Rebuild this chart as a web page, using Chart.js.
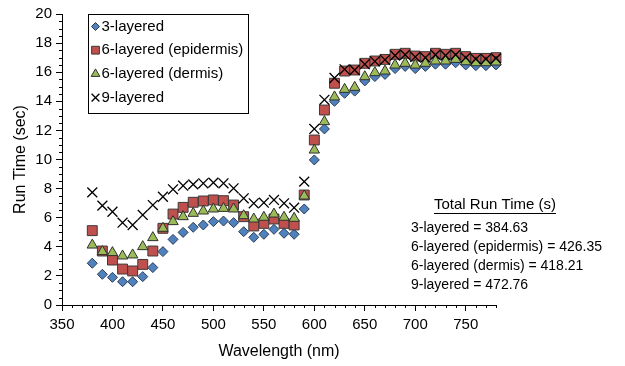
<!DOCTYPE html>
<html lang="en">
<head>
<meta charset="UTF-8">
<title>Run Time vs Wavelength</title>
<script src="https://cdn.jsdelivr.net/npm/chart.js"></script>
<style>
    body { margin: 0; background: #fff; }
    canvas { display: block; }
</style>
</head>
<body>
<canvas id="runTimeChart" width="625" height="366"></canvas>
<script>
    // one point every 10 nm
    const wavelengths = [380, 390, 400, 410, 420, 430, 440, 450, 460, 470, 480, 490, 500,
        510, 520, 530, 540, 550, 560, 570, 580, 590, 600, 610, 620, 630, 640, 650, 660,
        670, 680, 690, 700, 710, 720, 730, 740, 750, 760, 770, 780];

    const threeLayered = [2.87, 2.11, 1.90, 1.60, 1.60, 1.95, 2.57, 3.67, 4.51, 4.99, 5.34, 5.50, 5.73,
        5.77, 5.66, 5.04, 4.65, 4.86, 5.20, 4.93, 4.86, 6.60, 9.97, 12.1, 14.0, 14.55, 14.7, 15.4, 15.7,
        15.85, 16.25, 16.4, 16.25, 16.4, 16.55, 16.55, 16.65, 16.5, 16.45, 16.45, 16.5];
    const sixEpidermis = [5.11, 3.71, 3.09, 2.47, 2.34, 2.79, 3.71, 5.27, 6.25, 6.71, 7.06, 7.15, 7.22,
        7.17, 6.87, 6.07, 5.43, 5.61, 5.91, 5.61, 5.50, 7.56, 11.34, 13.4, 15.24, 16.08, 16.15, 16.61, 16.77,
        16.88, 17.23, 17.30, 17.11, 17.07, 17.30, 17.23, 17.30, 17.07, 16.95, 16.95, 17.0];
    const sixDermis = [4.12, 3.67, 3.60, 3.37, 3.44, 4.01, 4.63, 5.27, 5.73, 6.07, 6.30, 6.46, 6.60,
        6.64, 6.60, 6.14, 5.91, 6.03, 6.25, 6.03, 5.96, 7.49, 10.65, 12.6, 14.3, 14.82, 14.96, 15.69, 15.97,
        16.08, 16.49, 16.61, 16.49, 16.61, 16.77, 16.77, 16.88, 16.72, 16.65, 16.65, 16.7];
    const nineLayered = [7.74, 6.83, 6.41, 5.66, 5.50, 6.19, 6.87, 7.44, 7.95, 8.20, 8.29, 8.36, 8.41,
        8.36, 8.02, 7.33, 6.99, 7.03, 7.22, 6.99, 6.69, 8.48, 12.1, 14.1, 15.6, 16.2, 16.15, 16.55, 16.75,
        16.85, 17.15, 17.2, 17.05, 17.0, 17.2, 17.15, 17.2, 17.0, 16.9, 16.9, 16.95];

    const seriesNames = ['3-layered', '6-layered (epidermis)', '6-layered (dermis)', '9-layered'];
    const totalRunTimes = ['384.63', '426.35', '418.21', '472.76'];

    const xTicks = [350, 400, 450, 500, 550, 600, 650, 700, 750];
    const yTicks = [0, 2, 4, 6, 8, 10, 12, 14, 16, 18, 20];
    const xMinorStep = 10;
    const yMinorStep = 0.5;

    const FONT = "'Liberation Sans', Arial, sans-serif";
    Chart.defaults.font.family = FONT;
    Chart.defaults.color = '#000';

    const toPoints = values => values.map((v, i) => ({ x: wavelengths[i], y: v }));

    const markerStyles = [
        { pointStyle: 'rectRot', radius: 5, legendRadius: 4, bg: '#4F81BD', border: '#2b3b55', width: 1 },
        { pointStyle: 'rect', radius: 7, legendRadius: 5.5, bg: '#C0504D', border: '#3a3a3a', width: 1 },
        { pointStyle: 'triangle', radius: 6, legendRadius: 5, bg: '#9BBB59', border: '#2f2f2f', width: 1 },
        { pointStyle: 'crossRot', radius: 7, legendRadius: 5.5, bg: '#000', border: '#000', width: 1.3 }
    ];
    const seriesValues = [threeLayered, sixEpidermis, sixDermis, nineLayered];

    const datasets = seriesValues.map((values, i) => ({
        label: seriesNames[i],
        data: toPoints(values),
        showLine: false,
        pointStyle: markerStyles[i].pointStyle,
        pointRadius: markerStyles[i].radius,
        pointHoverRadius: markerStyles[i].radius,
        backgroundColor: markerStyles[i].bg,
        borderColor: markerStyles[i].border,
        pointBorderWidth: markerStyles[i].width,
        order: seriesValues.length - i,
        clip: false
    }));

    // small ticks between the labelled ones
    const minorTicks = {
        id: 'minorTicks',
        afterDraw(chart) {
            const { ctx, chartArea, scales: { x, y } } = chart;
            ctx.save();
            ctx.strokeStyle = '#000';
            ctx.lineWidth = 1;
            ctx.beginPath();
            for (let v = x.min; v <= x.max + 0.001; v += xMinorStep) {
                if (xTicks.includes(v)) continue;
                const px = Math.round(x.getPixelForValue(v)) + 0.5;
                ctx.moveTo(px, chartArea.bottom);
                ctx.lineTo(px, chartArea.bottom + 3);
            }
            for (let v = y.min; v <= y.max + 0.001; v += yMinorStep) {
                if (yTicks.includes(v)) continue;
                const py = Math.round(y.getPixelForValue(v)) + 0.5;
                ctx.moveTo(chartArea.left, py);
                ctx.lineTo(chartArea.left - 3, py);
            }
            ctx.stroke();
            ctx.restore();
        }
    };

    // boxed legend in the top-left corner of the plot
    const boxLegend = {
        id: 'boxLegend',
        afterDraw(chart) {
            const { ctx } = chart;
            const left = 88.5, top = 14.5, w = 160, h = 99, rowH = 23.7;
            ctx.save();
            ctx.fillStyle = '#fff';
            ctx.fillRect(left, top, w, h);
            ctx.strokeStyle = '#000';
            ctx.lineWidth = 1;
            ctx.strokeRect(left, top, w, h);
            ctx.font = '15px ' + FONT;
            ctx.textBaseline = 'middle';
            seriesNames.forEach((name, i) => {
                const m = markerStyles[i];
                const cy = top + 12 + rowH * i;
                ctx.fillStyle = m.bg;
                ctx.strokeStyle = m.border;
                ctx.lineWidth = m.width;
                Chart.helpers.drawPoint(ctx, {
                    pointStyle: m.pointStyle, radius: m.legendRadius, rotation: 0, borderWidth: m.width
                }, left + 7, cy);
                ctx.fillStyle = '#000';
                ctx.fillText(name, left + 13, cy);
            });
            ctx.restore();
        }
    };

    // total run time block
    const totalsText = {
        id: 'totalsText',
        afterDraw(chart) {
            const { ctx } = chart;
            ctx.save();
            ctx.font = '15px ' + FONT;
            ctx.fillStyle = '#000';
            ctx.textBaseline = 'middle';
            const title = 'Total Run Time (s)';
            const cx = 495, ty = 205;
            const tw = ctx.measureText(title).width;
            ctx.textAlign = 'center';
            ctx.fillText(title, cx, ty);
            ctx.beginPath();
            ctx.moveTo(cx - tw / 2, ty + 8.5);
            ctx.lineTo(cx + tw / 2, ty + 8.5);
            ctx.lineWidth = 1;
            ctx.strokeStyle = '#000';
            ctx.stroke();
            ctx.font = '14px ' + FONT;
            ctx.textAlign = 'left';
            seriesNames.forEach((name, i) => {
                ctx.fillText(name + ' = ' + totalRunTimes[i], 411, 228 + 19 * i);
            });
            ctx.restore();
        }
    };

    new Chart(document.getElementById('runTimeChart'), {
        type: 'scatter',
        data: { datasets: datasets },
        options: {
            responsive: false,
            animation: false,
            layout: { padding: { top: 14, right: 129, bottom: 0, left: 0 } },
            plugins: {
                legend: { display: false },
                tooltip: { enabled: false }
            },
            scales: {
                x: {
                    type: 'linear',
                    min: 350,
                    max: 780,
                    afterBuildTicks: scale => { scale.ticks = xTicks.map(v => ({ value: v })); },
                    afterFit: scale => { scale.height = 61; },
                    ticks: { font: { size: 15 }, padding: 5, maxRotation: 0, color: '#000' },
                    grid: { drawOnChartArea: false, drawTicks: true, tickLength: 6, color: '#000' },
                    border: { color: '#000', width: 1 },
                    title: {
                        display: true,
                        text: 'Wavelength (nm)',
                        font: { size: 16 },
                        color: '#000',
                        padding: { top: 0, bottom: 5 }
                    }
                },
                y: {
                    min: 0,
                    max: 20,
                    afterBuildTicks: scale => { scale.ticks = yTicks.map(v => ({ value: v })); },
                    afterFit: scale => { scale.width = 62; },
                    ticks: { font: { size: 15 }, padding: 4, color: '#000' },
                    grid: { drawOnChartArea: false, drawTicks: true, tickLength: 6, color: '#000' },
                    border: { color: '#000', width: 1 },
                    title: {
                        display: true,
                        text: 'Run Time (sec)',
                        font: { size: 16 },
                        color: '#000',
                        padding: { top: 11, bottom: 0 }
                    }
                }
            }
        },
        plugins: [minorTicks, boxLegend, totalsText]
    });
</script>
</body>
</html>
